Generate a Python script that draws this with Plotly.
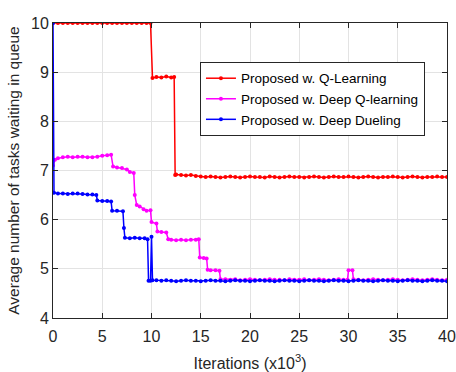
import plotly.graph_objects as go

# ---- data (iterations in thousands) ----
red_x = [0, 0.5, 1, 1.5, 2, 2.5, 3, 3.5, 4, 4.5, 5, 5.5, 6, 6.5, 7, 7.5, 8, 8.5, 9, 9.5, 9.9,
         10.1, 10.5, 11, 11.5, 12, 12.3,
         12.4, 12.5, 13, 13.5, 14, 14.5, 15, 15.5, 16, 16.5, 17, 17.5, 18, 18.5, 19, 19.5,
         20, 20.5, 21, 21.5, 22, 22.5, 23, 23.5, 24, 24.5, 25, 25.5, 26, 26.5, 27, 27.5,
         28, 28.5, 29, 29.5, 30, 30.5, 31, 31.5, 32, 32.5, 33, 33.5, 34, 34.5, 35, 35.5,
         36, 36.5, 37, 37.5, 38, 38.5, 39, 39.5, 40]
red_y = [10, 10, 10, 10, 10, 10, 10, 10, 10, 10, 10, 10, 10, 10, 10, 10, 10, 10, 10, 10, 10,
         8.88, 8.90, 8.89, 8.91, 8.89, 8.90,
         6.91, 6.92, 6.91, 6.90, 6.91, 6.89, 6.88, 6.87, 6.88, 6.87, 6.86, 6.87, 6.88, 6.87,
         6.86, 6.87, 6.88, 6.87, 6.87, 6.86, 6.88, 6.87, 6.86, 6.87, 6.88, 6.87, 6.87, 6.86,
         6.87, 6.88, 6.87, 6.86, 6.87, 6.88, 6.87, 6.87, 6.88, 6.87, 6.86, 6.87, 6.88, 6.87,
         6.86, 6.87, 6.87, 6.88, 6.87, 6.86, 6.87, 6.88, 6.87, 6.86, 6.87, 6.87, 6.88, 6.87,
         6.87]

mag_x = [0, 0.2, 0.5, 1, 1.5, 2, 2.5, 3, 3.5, 4, 4.5, 5, 5.5, 5.9,
         6.1, 6.5, 7, 7.5, 7.8, 8.2,
         8.3, 8.5, 8.8, 9.2, 9.5, 9.9,
         10.0, 10.5, 10.6, 11, 11.5, 11.7, 12, 12.5, 13, 13.5, 14, 14.5, 14.8,
         14.9, 15.3, 15.6, 15.7, 16, 16.5, 16.9,
         17, 17.5, 18, 18.5, 19, 19.5, 20, 20.5, 21, 21.5, 22, 22.5, 23, 23.5, 24, 24.5,
         25, 25.5, 26, 26.5, 27, 27.5, 28, 28.5, 29, 29.5, 29.9,
         30, 30.4, 30.5, 31, 31.5, 32, 32.5, 33, 33.5, 34, 34.5, 35, 35.5, 36, 36.5,
         37, 37.5, 38, 38.5, 39, 39.5, 40]
mag_y = [7.10, 7.22, 7.25, 7.27, 7.28, 7.27, 7.28, 7.28, 7.27, 7.27, 7.28, 7.30, 7.31, 7.32,
         7.08, 7.06, 7.05, 7.02, 6.97, 6.95,
         6.50, 6.30, 6.27, 6.21, 6.18, 6.19,
         5.95, 5.92, 5.76, 5.75, 5.74, 5.60, 5.59, 5.58, 5.59, 5.58, 5.59, 5.59, 5.60,
         5.23, 5.22, 5.21, 4.98, 4.97, 4.97, 4.96,
         4.79, 4.79, 4.78, 4.79, 4.77, 4.78, 4.79, 4.78, 4.77, 4.78, 4.79, 4.78, 4.78, 4.77,
         4.79, 4.78, 4.78, 4.79, 4.77, 4.78, 4.79, 4.78, 4.77, 4.78, 4.79, 4.78, 4.78,
         4.97, 4.97, 4.79, 4.78, 4.77, 4.78, 4.79, 4.78, 4.77, 4.78, 4.79, 4.78, 4.77, 4.78,
         4.79, 4.78, 4.77, 4.78, 4.79, 4.78, 4.77, 4.78]

blue_x = [0, 0.1, 0.5, 1, 1.5, 2, 2.5, 3, 3.5, 4, 4.4,
          4.5, 5, 5.5, 5.9,
          6.0, 6.5, 7.1, 7.2,
          7.3, 7.8, 8.3, 8.8, 9.3, 9.6,
          9.7, 9.9, 10.0, 10.1, 10.5, 11, 11.5, 12, 12.5, 13, 13.5, 14, 14.5, 15, 15.5,
          16, 16.5, 17, 17.5, 18, 18.5, 19, 19.5, 20, 20.5, 21, 21.5, 22, 22.5, 23, 23.5,
          24, 24.5, 25, 25.5, 26, 26.5, 27, 27.5, 28, 28.5, 29, 29.5, 30, 30.5, 31, 31.5,
          32, 32.5, 33, 33.5, 34, 34.5, 35, 35.5, 36, 36.5, 37, 37.5, 38, 38.5, 39, 39.5, 40]
blue_y = [10, 6.55, 6.53, 6.53, 6.52, 6.53, 6.53, 6.52, 6.51, 6.51, 6.50,
          6.39, 6.38, 6.38, 6.37,
          6.18, 6.18, 6.17, 5.83,
          5.63, 5.62, 5.63, 5.62, 5.62, 5.60,
          4.76, 4.76, 5.65, 4.77, 4.77, 4.76, 4.77, 4.76, 4.75, 4.76, 4.77, 4.76, 4.76, 4.75,
          4.76, 4.77, 4.76, 4.76, 4.75, 4.76, 4.77, 4.76, 4.76, 4.75, 4.76, 4.77, 4.76, 4.76,
          4.75, 4.76, 4.77, 4.76, 4.76, 4.75, 4.76, 4.77, 4.76, 4.76, 4.75, 4.76, 4.77, 4.76,
          4.76, 4.75, 4.76, 4.77, 4.76, 4.76, 4.75, 4.76, 4.77, 4.76, 4.76, 4.75, 4.76, 4.77,
          4.76, 4.76, 4.75, 4.76, 4.77, 4.76, 4.76, 4.75, 4.76]

names = ["Proposed w. Q-Learning", "Proposed w. Deep Q-learning", "Proposed w. Deep Dueling"]
colors = ["#ff0000", "#ff00ff", "#0000ff"]

x_ticks = [0, 5, 10, 15, 20, 25, 30, 35, 40]
y_ticks = [4, 5, 6, 7, 8, 9, 10]

fig = go.Figure()
for xs, ys, nm, c in zip([red_x, mag_x, blue_x], [red_y, mag_y, blue_y], names, colors):
    fig.add_trace(go.Scatter(x=xs, y=ys, name=nm, mode="lines+markers",
                             line=dict(color=c, width=1.5),
                             marker=dict(color=c, size=4)))

axis_common = dict(showline=True, linecolor="#262626", linewidth=1, mirror="ticks",
                   ticks="inside", ticklen=5, tickcolor="#262626", automargin=False,
                   showgrid=True, gridcolor="#e3e3e3", gridwidth=1, zeroline=False,
                   tickfont=dict(size=16, color="#262626"))

fig.update_layout(
    width=456, height=372,
    margin=dict(l=53, r=9, t=23, b=54),
    paper_bgcolor="white", plot_bgcolor="white",
    font=dict(family="Liberation Sans, Arial, sans-serif", color="#262626"),
    showlegend=True,
    legend=dict(x=0.373, y=0.868, xanchor="left", yanchor="top",
                bgcolor="white", bordercolor="#262626", borderwidth=1,
                font=dict(size=13.5, color="#000000"), tracegroupgap=0,
                itemwidth=30),
    xaxis=dict(range=[0, 40], tickvals=x_ticks, ticklabelstandoff=4,
               title=dict(text="Iterations (x10<sup>3</sup>)", font=dict(size=16), standoff=13),
               **axis_common),
    yaxis=dict(range=[4, 10], tickvals=y_ticks,
               title=dict(text="Average number of tasks waiting in queue", font=dict(size=15.5), standoff=7),
               **axis_common),
)

# remove the default page margin so the 456x372 figure fills the window exactly
fig.write_html("out.html", config={"displayModeBar": False},
               post_script="document.body.style.margin='0';document.body.style.overflow='hidden';")
